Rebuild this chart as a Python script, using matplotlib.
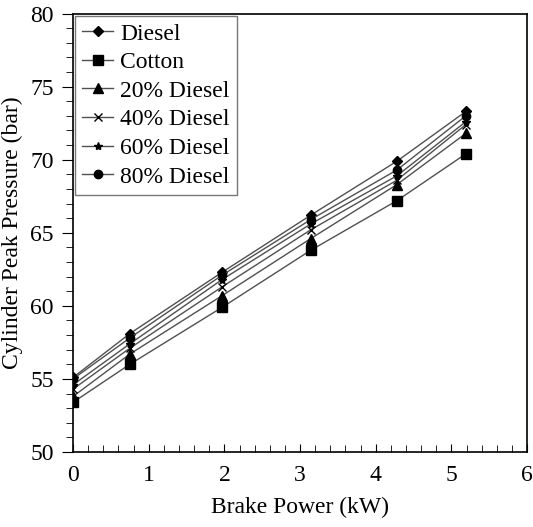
import matplotlib
matplotlib.use('Agg')
import matplotlib.pyplot as plt
from matplotlib.ticker import MultipleLocator

# Brake power points (kW)
power = [0, 0.75, 1.97, 3.14, 4.28, 5.19]

# Cylinder peak pressure (bar) for each fuel
diesel = [55.1, 58.1, 62.3, 66.2, 69.9, 73.3]
cotton = [53.4, 56.0, 59.9, 63.8, 67.2, 70.4]
d20 = [53.8, 56.7, 60.7, 64.6, 68.3, 71.8]
d40 = [54.3, 57.1, 61.3, 65.2, 68.6, 72.4]
d60 = [54.6, 57.4, 61.8, 65.6, 68.9, 72.6]
d80 = [55.0, 57.8, 62.1, 65.9, 69.3, 73.0]

labels = ['Diesel', 'Cotton', '20% Diesel', '40% Diesel', '60% Diesel', '80% Diesel']
series = [diesel, cotton, d20, d40, d60, d80]
markers = ['D', 's', '^', 'x', '*', 'o']
msizes = [5, 7, 7, 6, 6, 6]

plt.rcParams['font.family'] = ['Liberation Serif', 'DejaVu Serif']
plt.rcParams['font.size'] = 17

fig = plt.figure(figsize=(5.33, 5.27), dpi=100)
ax = fig.add_axes([0.137, 0.1423, 0.852, 0.832])

for y, lab, m, ms in zip(series, labels, markers, msizes):
    ax.plot(power, y, color='#505050', linewidth=1.0, marker=m, markersize=ms,
            markerfacecolor='black', markeredgecolor='black', markeredgewidth=1.0,
            label=lab)

ax.set_xlim(0, 6)
ax.set_ylim(50, 80)
ax.xaxis.set_major_locator(MultipleLocator(1))
ax.xaxis.set_minor_locator(MultipleLocator(0.2))
ax.yaxis.set_major_locator(MultipleLocator(5))
ax.yaxis.set_minor_locator(MultipleLocator(1))

ax.tick_params(axis='x', which='both', direction='in', top=False, pad=9)
ax.tick_params(axis='x', which='major', length=6)
ax.tick_params(axis='x', which='minor', length=5)
ax.tick_params(axis='y', which='both', direction='out', right=False, pad=6)
ax.tick_params(axis='y', which='major', length=8)
ax.tick_params(axis='y', which='minor', length=5)

for s in ax.spines.values():
    s.set_linewidth(1.2)

ax.set_xlabel('Brake Power (kW)', labelpad=8)
ax.set_ylabel('Cylinder Peak Pressure (bar)', labelpad=5)

leg = ax.legend(loc='upper left', borderaxespad=0.1, fancybox=False,
                handlelength=1.3, handletextpad=0.3, labelspacing=0.3,
                borderpad=0.3, framealpha=1)
leg.get_frame().set_edgecolor('#777777')
leg.get_frame().set_linewidth(1.0)

fig.savefig('out.png', dpi=100)
